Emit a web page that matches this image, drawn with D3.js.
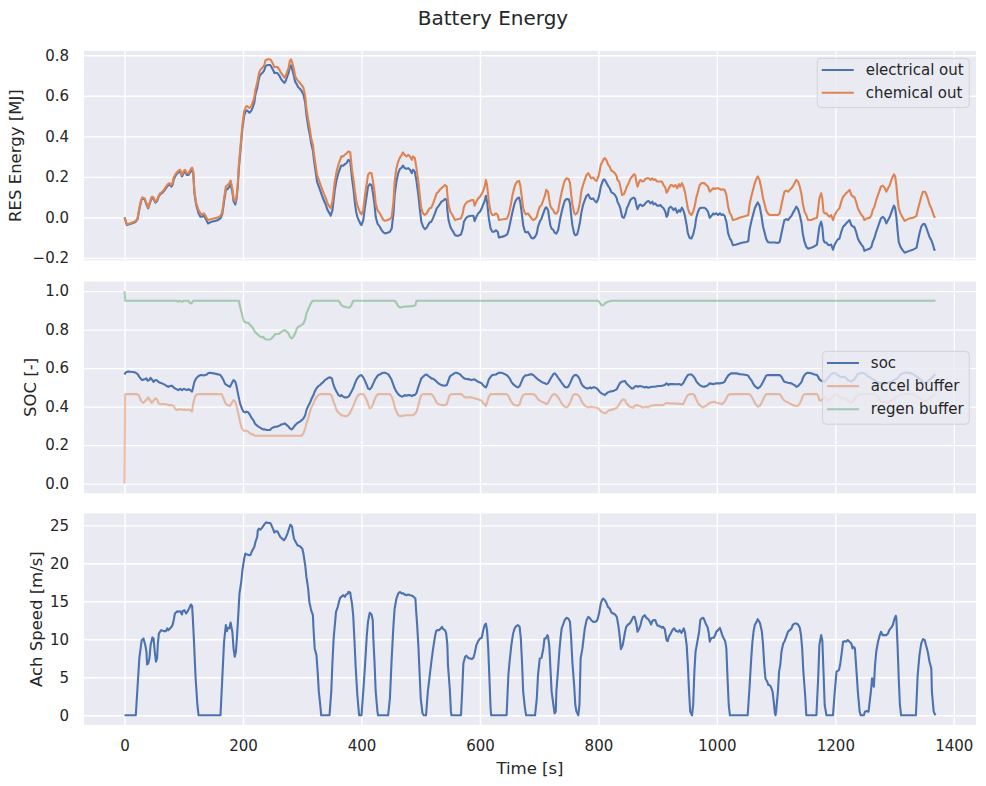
<!DOCTYPE html>
<html>
<head>
<meta charset="utf-8">
<script src="https://cdn.jsdelivr.net/npm/d3@7"></script>
<style>
  body { margin: 0; background: #fff; }
  text { font-family: "DejaVu Sans", sans-serif; fill: #262626; }
</style>
</head>
<body>
<div id="chart"></div>
<script>
// ---- data (time [s], value) ----
const electricalOut = [[0,0],[4,-0.038],[12,-0.03],[19,-0.021],[22,-0.008],[25,0.041],[28,0.081],[30,0.094],[34,0.089],[37,0.064],
[40,0.045],[43,0.073],[46,0.098],[49,0.091],[52,0.073],[55,0.081],[57,0.098],[60,0.114],[64,0.122],[67,0.132],
[70,0.144],[73,0.157],[76,0.164],[79,0.152],[81,0.16],[83,0.188],[87,0.21],[91,0.223],[94,0.226],[97,0.202],
[100,0.221],[102,0.226],[105,0.21],[108,0.21],[111,0.223],[114,0.238],[116,0.218],[118,0.119],[121,0.061],[125,0.02],
[128,0.003],[130,0.003],[134,0.008],[136,-0.002],[139,-0.018],[141,-0.03],[147,-0.021],[156,-0.015],[162,-0.005],[165,0.017],
[168,0.078],[171,0.136],[174,0.14],[177,0.152],[179,0.165],[182,0.127],[184,0.081],[187,0.064],[189,0.091],[191,0.147],
[193,0.243],[196,0.342],[199,0.438],[202,0.504],[205,0.527],[207,0.527],[211,0.516],[214,0.527],[216,0.54],[219,0.565],
[221,0.607],[224,0.64],[226,0.673],[228,0.698],[230,0.706],[233,0.714],[236,0.726],[238,0.747],[242,0.752],[246,0.752],
[248,0.742],[251,0.726],[253,0.712],[255,0.714],[258,0.712],[261,0.701],[264,0.684],[268,0.669],[270,0.664],[272,0.673],
[274,0.689],[277,0.714],[279,0.742],[281,0.75],[283,0.731],[286,0.698],[288,0.669],[291,0.656],[293,0.643],[296,0.635],
[299,0.623],[302,0.607],[305,0.565],[307,0.507],[310,0.45],[313,0.405],[315,0.367],[318,0.329],[320,0.279],[323,0.218],
[325,0.177],[328,0.152],[331,0.127],[334,0.102],[337,0.081],[340,0.061],[342,0.041],[346,0.02],[348,0.008],[351,0.036],
[353,0.086],[355,0.136],[358,0.185],[361,0.218],[364,0.243],[366,0.256],[369,0.255],[372,0.263],[375,0.268],[378,0.284],
[381,0.276],[382,0.251],[384,0.193],[387,0.127],[389,0.069],[391,0.028],[393,0.003],[396,-0.018],[398,-0.03],[400,-0.038],
[403,-0.013],[406,0.053],[409,0.111],[411,0.152],[414,0.164],[417,0.16],[419,0.127],[422,0.064],[424,0.003],[427,-0.03],
[431,-0.046],[434,-0.063],[437,-0.074],[440,-0.079],[444,-0.076],[448,-0.071],[451,-0.055],[454,0.02],[456,0.111],[459,0.177],
[462,0.218],[465,0.24],[468,0.246],[470,0.256],[473,0.243],[476,0.24],[479,0.243],[482,0.235],[485,0.218],[487,0.235],
[490,0.226],[493,0.177],[496,0.111],[499,0.028],[501,-0.021],[504,-0.046],[507,-0.058],[510,-0.051],[513,-0.035],[515,-0.025],
[518,-0.021],[521,-0.002],[524,0.02],[527,0.045],[530,0.056],[532,0.064],[535,0.078],[538,0.083],[541,0.091],[544,0.086],
[545,0.036],[547,-0.013],[550,-0.046],[552,-0.058],[555,-0.071],[558,-0.088],[563,-0.091],[568,-0.084],[571,-0.055],[573,-0.021],
[576,-0.005],[579,0.003],[583,0.007],[586,0.008],[589,0.008],[591,-0.018],[594,0.003],[597,0.02],[600,0.028],[603,0.045],
[605,0.061],[608,0.081],[610,0.107],[612,0.078],[615,-0.005],[618,-0.055],[621,-0.071],[624,-0.071],[627,-0.063],[630,-0.071],
[632,-0.099],[636,-0.096],[642,-0.091],[646,-0.084],[649,-0.055],[652,-0.013],[655,0.028],[658,0.064],[660,0.081],[663,0.094],
[666,0.098],[668,0.078],[671,0.012],[673,-0.038],[676,-0.071],[678,-0.074],[681,-0.071],[687,-0.101],[690,-0.104],[693,-0.096],
[696,-0.079],[698,-0.046],[701,-0.021],[704,-0.005],[707,0.02],[710,0.045],[712,0.05],[715,0.036],[717,-0.005],[719,-0.04],
[721,-0.055],[724,-0.062],[726,-0.075],[729,-0.08],[732,-0.063],[735,-0.013],[738,0.028],[741,0.061],[743,0.081],[746,0.091],
[750,0.089],[752,0.069],[754,0.012],[756,-0.038],[759,-0.079],[761,-0.088],[764,-0.084],[766,-0.063],[769,-0.021],[771,0.02],
[774,0.061],[777,0.086],[780,0.107],[783,0.114],[786,0.094],[788,0.091],[791,0.094],[794,0.081],[797,0.074],[800,0.094],
[802,0.119],[804,0.152],[807,0.177],[809,0.188],[811,0.185],[814,0.169],[816,0.157],[819,0.144],[822,0.124],[825,0.119],
[828,0.111],[831,0.094],[832,0.078],[835,0.061],[837,0.045],[840,0.003],[843,-0.002],[846,0.02],[848,0.045],[851,0.064],
[854,0.086],[857,0.094],[860,0.098],[862,0.091],[864,0.061],[866,0.041],[869,0.061],[871,0.064],[874,0.056],[877,0.061],
[879,0.069],[882,0.078],[885,0.081],[888,0.069],[891,0.078],[893,0.064],[896,0.069],[899,0.058],[902,0.058],[905,0.061],
[907,0.053],[910,0.045],[913,0.028],[915,0.003],[917,0.012],[919,0.045],[922,0.053],[924,0.048],[927,0.036],[930,0.045],
[933,0.023],[936,0.036],[938,0.028],[941,0.048],[944,0.031],[946,0.008],[949,-0.038],[951,-0.079],[954,-0.101],[957,-0.104],
[960,-0.084],[963,-0.046],[965,-0.005],[968,0.028],[971,0.045],[974,0.048],[977,0.048],[979,0.048],[982,0.041],[985,0.028],
[988,-0.002],[991,0.008],[994,0.02],[996,0.015],[999,0.02],[1002,0.012],[1005,0.02],[1008,0.012],[1010,0.015],[1013,0.008],
[1016,-0.021],[1019,-0.079],[1022,-0.104],[1024,-0.112],[1027,-0.137],[1033,-0.134],[1038,-0.129],[1044,-0.124],[1050,-0.121],[1053,-0.117],
[1055,-0.063],[1058,-0.021],[1061,0.012],[1064,0.045],[1067,0.064],[1069,0.074],[1072,0.058],[1075,0.012],[1078,-0.046],[1081,-0.079],
[1083,-0.104],[1086,-0.121],[1089,-0.124],[1098,-0.124],[1103,-0.126],[1106,-0.121],[1109,-0.079],[1112,-0.038],[1114,-0.013],[1117,-0.008],
[1120,-0.013],[1123,-0.002],[1126,0.008],[1128,0.02],[1131,0.036],[1134,0.053],[1137,0.041],[1140,0.012],[1143,-0.03],[1145,-0.079],
[1148,-0.121],[1151,-0.145],[1154,-0.154],[1159,-0.15],[1165,-0.142],[1169,-0.134],[1171,-0.088],[1173,-0.046],[1176,-0.021],[1178,-0.046],
[1180,-0.112],[1182,-0.124],[1185,-0.124],[1187,-0.134],[1190,-0.137],[1193,-0.134],[1196,-0.159],[1199,-0.134],[1202,-0.117],[1204,-0.109],
[1207,-0.104],[1210,-0.071],[1213,-0.046],[1216,-0.038],[1218,-0.03],[1221,-0.021],[1224,-0.013],[1227,-0.038],[1230,-0.046],[1232,-0.046],
[1235,-0.071],[1238,-0.104],[1241,-0.121],[1244,-0.134],[1247,-0.145],[1249,-0.165],[1253,-0.159],[1258,-0.154],[1261,-0.145],[1263,-0.121],
[1266,-0.101],[1269,-0.071],[1272,-0.046],[1275,-0.021],[1277,-0.005],[1280,0.003],[1283,-0.005],[1286,-0.03],[1289,-0.013],[1292,0.003],
[1294,0.02],[1297,0.045],[1299,0.058],[1301,0.045],[1303,0.003],[1305,-0.063],[1307,-0.121],[1310,-0.145],[1313,-0.159],[1317,-0.174],
[1325,-0.165],[1331,-0.159],[1337,-0.15],[1339,-0.121],[1342,-0.079],[1345,-0.046],[1348,-0.033],[1351,-0.033],[1353,-0.046],[1356,-0.071],
[1359,-0.096],[1362,-0.112],[1365,-0.137],[1367,-0.159],[1369,-0.162]]

const chemicalOut = [[0,0],[4,-0.035],[12,-0.026],[19,-0.018],[22,-0.005],[25,0.045],[28,0.086],[30,0.099],[34,0.094],[37,0.069],
[40,0.048],[43,0.078],[46,0.102],[49,0.098],[52,0.078],[55,0.086],[57,0.102],[60,0.119],[64,0.127],[67,0.139],
[70,0.152],[73,0.164],[76,0.169],[79,0.16],[81,0.169],[83,0.197],[87,0.218],[91,0.231],[94,0.235],[97,0.21],
[100,0.23],[102,0.235],[105,0.218],[108,0.218],[111,0.235],[114,0.246],[116,0.226],[118,0.127],[121,0.069],[125,0.036],
[128,0.02],[130,0.015],[134,0.02],[136,0.012],[139,-0.005],[141,-0.013],[147,-0.008],[156,-0.002],[162,0.008],[165,0.028],
[168,0.094],[171,0.152],[174,0.16],[177,0.169],[179,0.182],[182,0.144],[184,0.094],[187,0.078],[189,0.102],[191,0.16],
[193,0.26],[196,0.359],[199,0.458],[202,0.524],[205,0.547],[207,0.549],[211,0.54],[214,0.549],[216,0.565],[219,0.59],
[221,0.631],[224,0.664],[226,0.698],[228,0.722],[230,0.731],[233,0.739],[236,0.752],[238,0.775],[242,0.78],[246,0.78],
[248,0.772],[251,0.755],[253,0.742],[255,0.742],[258,0.742],[261,0.731],[264,0.714],[268,0.698],[270,0.689],[272,0.698],
[274,0.714],[277,0.739],[279,0.772],[281,0.78],[283,0.764],[286,0.731],[288,0.698],[291,0.681],[293,0.673],[296,0.664],
[299,0.653],[302,0.64],[305,0.598],[307,0.54],[310,0.483],[313,0.433],[315,0.392],[318,0.359],[320,0.309],[323,0.251],
[325,0.21],[328,0.185],[331,0.16],[334,0.136],[337,0.114],[340,0.094],[342,0.074],[346,0.053],[348,0.045],[351,0.078],
[353,0.127],[355,0.177],[358,0.226],[361,0.26],[364,0.284],[366,0.301],[369,0.301],[372,0.309],[375,0.317],[378,0.326],
[381,0.322],[382,0.293],[384,0.235],[387,0.177],[389,0.127],[391,0.086],[393,0.061],[396,0.036],[398,0.023],[400,0.015],
[403,0.036],[406,0.111],[409,0.169],[411,0.21],[414,0.221],[417,0.218],[419,0.185],[422,0.127],[424,0.069],[427,0.036],
[431,0.02],[434,0.003],[437,-0.013],[440,-0.017],[444,-0.013],[448,-0.008],[451,0.003],[454,0.078],[456,0.177],[459,0.243],
[462,0.276],[465,0.296],[468,0.309],[470,0.321],[473,0.309],[476,0.301],[479,0.309],[482,0.301],[485,0.284],[487,0.301],
[490,0.293],[493,0.24],[496,0.177],[499,0.094],[501,0.045],[504,0.02],[507,0.012],[510,0.02],[513,0.036],[515,0.045],
[518,0.048],[521,0.069],[524,0.094],[527,0.119],[530,0.127],[532,0.136],[535,0.144],[538,0.152],[541,0.16],[544,0.152],
[545,0.111],[547,0.061],[550,0.028],[552,0.02],[555,0.003],[558,-0.013],[563,-0.008],[568,-0.005],[571,0.02],[573,0.053],
[576,0.069],[579,0.078],[583,0.081],[586,0.086],[589,0.086],[591,0.058],[594,0.078],[597,0.094],[600,0.102],[603,0.116],
[605,0.127],[608,0.152],[610,0.185],[612,0.16],[615,0.078],[618,0.028],[621,0.012],[624,0.012],[627,0.02],[630,0.012],
[632,-0.013],[636,-0.01],[642,-0.008],[646,-0.005],[649,0.02],[652,0.061],[655,0.111],[658,0.147],[660,0.164],[663,0.177],
[666,0.18],[668,0.16],[671,0.094],[673,0.045],[676,0.02],[678,0.015],[681,0.02],[687,-0.005],[690,-0.013],[693,-0.008],
[696,0.003],[698,0.028],[701,0.053],[704,0.061],[707,0.086],[710,0.111],[712,0.136],[715,0.127],[717,0.086],[719,0.055],
[721,0.045],[724,0.035],[726,0.022],[729,0.018],[732,0.032],[735,0.082],[738,0.125],[741,0.16],[743,0.18],[746,0.193],
[750,0.188],[752,0.17],[754,0.115],[756,0.065],[759,0.024],[761,0.015],[764,0.02],[766,0.036],[769,0.078],[771,0.127],
[774,0.16],[777,0.185],[780,0.21],[783,0.218],[786,0.202],[788,0.193],[791,0.197],[794,0.185],[797,0.18],[800,0.202],
[802,0.226],[804,0.26],[807,0.276],[809,0.289],[811,0.293],[814,0.279],[816,0.263],[819,0.251],[822,0.23],[825,0.226],
[828,0.218],[831,0.202],[832,0.185],[835,0.177],[837,0.152],[840,0.111],[843,0.114],[846,0.136],[848,0.152],[851,0.169],
[854,0.19],[857,0.202],[860,0.213],[862,0.21],[864,0.177],[866,0.152],[869,0.177],[871,0.185],[874,0.177],[877,0.18],
[879,0.19],[882,0.193],[885,0.193],[888,0.185],[891,0.193],[893,0.185],[896,0.188],[899,0.177],[902,0.177],[905,0.177],
[907,0.177],[910,0.16],[913,0.147],[915,0.122],[917,0.13],[919,0.144],[922,0.16],[924,0.16],[927,0.152],[930,0.16],
[933,0.144],[936,0.164],[938,0.152],[941,0.169],[944,0.147],[946,0.127],[949,0.078],[951,0.045],[954,0.02],[957,0.012],
[960,0.028],[963,0.061],[965,0.094],[968,0.127],[971,0.16],[974,0.169],[977,0.169],[979,0.169],[982,0.16],[985,0.152],
[988,0.127],[991,0.136],[994,0.144],[996,0.14],[999,0.144],[1002,0.144],[1005,0.14],[1008,0.136],[1010,0.139],[1013,0.136],
[1016,0.111],[1019,0.053],[1022,0.02],[1024,0.012],[1027,-0.013],[1033,-0.008],[1038,-0.002],[1044,0.003],[1050,0.008],[1053,0.012],
[1055,0.061],[1058,0.102],[1061,0.136],[1064,0.169],[1067,0.193],[1069,0.202],[1072,0.185],[1075,0.144],[1078,0.094],[1081,0.061],
[1083,0.036],[1086,0.02],[1089,0.012],[1098,0.012],[1103,0.012],[1106,0.02],[1109,0.061],[1112,0.102],[1114,0.127],[1117,0.132],
[1120,0.127],[1123,0.136],[1126,0.144],[1128,0.152],[1131,0.169],[1134,0.185],[1137,0.177],[1140,0.152],[1143,0.111],[1145,0.069],
[1148,0.028],[1151,0.012],[1154,-0.013],[1159,-0.013],[1165,-0.005],[1169,-0.002],[1171,0.045],[1173,0.094],[1176,0.119],[1178,0.094],
[1180,0.028],[1182,0.02],[1185,0.02],[1187,0.012],[1190,0.003],[1193,0.012],[1196,-0.013],[1199,0.012],[1202,0.028],[1204,0.036],
[1207,0.045],[1210,0.078],[1213,0.102],[1216,0.111],[1218,0.119],[1221,0.127],[1224,0.136],[1227,0.111],[1230,0.102],[1232,0.102],
[1235,0.078],[1238,0.045],[1241,0.028],[1244,0.012],[1247,0.003],[1249,-0.013],[1253,-0.005],[1258,-0.002],[1261,0.012],[1263,0.036],
[1266,0.053],[1269,0.086],[1272,0.111],[1275,0.136],[1277,0.152],[1280,0.157],[1283,0.147],[1286,0.127],[1289,0.144],[1292,0.16],
[1294,0.18],[1297,0.202],[1299,0.213],[1301,0.202],[1303,0.16],[1305,0.094],[1307,0.045],[1310,0.02],[1313,0.003],[1317,-0.017],
[1325,-0.005],[1331,-0.002],[1337,0.008],[1339,0.036],[1342,0.069],[1345,0.102],[1348,0.127],[1351,0.127],[1353,0.119],[1356,0.094],
[1359,0.064],[1362,0.045],[1365,0.02],[1367,0.003],[1369,0]]

const soc = [[0,0.567],[2,0.578],[6,0.583],[10,0.581],[15,0.58],[19,0.576],[22,0.569],[25,0.555],[28,0.543],[30,0.538],[34,0.542],[37,0.547],[39,0.535],[42,0.538],[44,0.55],[47,0.538],[49,0.529],[52,0.538],[55,0.536],[57,0.529],[60,0.524],[63,0.521],[66,0.517],[69,0.512],[71,0.507],[74,0.503],[77,0.507],[80,0.509],[83,0.5],[85,0.495],[88,0.49],[91,0.486],[94,0.493],[97,0.486],[100,0.493],[102,0.49],[105,0.486],[108,0.491],[111,0.486],[114,0.478],[116,0.503],[118,0.529],[121,0.547],[125,0.559],[128,0.564],[130,0.564],[134,0.562],[136,0.564],[139,0.567],[141,0.573],[144,0.576],[150,0.573],[156,0.569],[161,0.566],[164,0.555],[167,0.538],[170,0.517],[173,0.512],[175,0.507],[178,0.503],[181,0.521],[184,0.538],[187,0.529],[189,0.507],[192,0.46],[195,0.417],[198,0.391],[201,0.374],[204,0.37],[206,0.374],[209,0.37],[212,0.356],[215,0.339],[218,0.327],[220,0.313],[223,0.304],[226,0.296],[229,0.291],[232,0.285],[234,0.282],[237,0.282],[240,0.279],[246,0.279],[248,0.287],[251,0.292],[254,0.296],[257,0.296],[260,0.299],[263,0.304],[265,0.308],[268,0.31],[271,0.313],[274,0.304],[277,0.296],[279,0.287],[282,0.282],[285,0.291],[288,0.304],[291,0.313],[293,0.317],[296,0.322],[299,0.33],[302,0.339],[305,0.356],[307,0.382],[310,0.403],[313,0.42],[316,0.443],[319,0.46],[321,0.478],[324,0.495],[327,0.507],[330,0.512],[333,0.521],[336,0.529],[338,0.538],[341,0.543],[344,0.55],[347,0.552],[350,0.547],[352,0.521],[355,0.495],[358,0.478],[361,0.46],[364,0.455],[366,0.46],[369,0.452],[372,0.448],[375,0.448],[378,0.452],[380,0.46],[383,0.478],[386,0.495],[389,0.521],[392,0.542],[395,0.555],[397,0.561],[400,0.564],[403,0.552],[406,0.533],[409,0.512],[411,0.495],[414,0.49],[417,0.5],[420,0.521],[423,0.542],[426,0.555],[428,0.564],[431,0.567],[434,0.573],[437,0.576],[440,0.576],[442,0.573],[445,0.569],[448,0.555],[451,0.538],[454,0.512],[456,0.495],[459,0.478],[462,0.465],[465,0.457],[468,0.452],[471,0.455],[473,0.46],[476,0.457],[479,0.46],[482,0.46],[485,0.455],[487,0.46],[490,0.46],[493,0.472],[496,0.503],[499,0.529],[501,0.547],[504,0.555],[507,0.564],[510,0.567],[513,0.559],[515,0.555],[518,0.547],[521,0.545],[524,0.538],[527,0.529],[530,0.521],[532,0.517],[535,0.512],[541,0.509],[544,0.512],[546,0.529],[549,0.555],[552,0.564],[555,0.569],[558,0.576],[560,0.576],[563,0.573],[566,0.569],[569,0.559],[572,0.55],[575,0.545],[580,0.543],[586,0.538],[591,0.542],[594,0.535],[597,0.529],[600,0.526],[603,0.521],[605,0.512],[608,0.503],[610,0.5],[612,0.512],[615,0.542],[618,0.555],[621,0.564],[627,0.567],[630,0.573],[632,0.576],[636,0.576],[639,0.573],[642,0.569],[645,0.564],[648,0.555],[650,0.547],[653,0.529],[656,0.517],[659,0.509],[662,0.503],[664,0.5],[667,0.507],[670,0.529],[673,0.55],[676,0.561],[681,0.564],[687,0.569],[690,0.564],[693,0.555],[696,0.547],[698,0.542],[701,0.535],[704,0.529],[707,0.524],[710,0.521],[712,0.517],[715,0.521],[718,0.538],[721,0.555],[724,0.569],[726,0.573],[729,0.564],[732,0.55],[735,0.538],[738,0.524],[741,0.512],[743,0.503],[746,0.5],[749,0.503],[752,0.521],[755,0.542],[757,0.555],[760,0.564],[763,0.564],[766,0.555],[769,0.538],[771,0.521],[774,0.507],[777,0.5],[780,0.495],[783,0.495],[786,0.5],[788,0.495],[791,0.5],[794,0.5],[797,0.495],[800,0.486],[802,0.478],[805,0.469],[808,0.465],[811,0.46],[814,0.469],[816,0.474],[819,0.478],[825,0.481],[828,0.486],[831,0.49],[833,0.503],[836,0.521],[839,0.529],[845,0.533],[847,0.521],[850,0.512],[853,0.503],[856,0.495],[859,0.495],[861,0.503],[864,0.507],[867,0.503],[870,0.507],[875,0.503],[878,0.5],[881,0.503],[884,0.498],[890,0.503],[895,0.503],[901,0.507],[906,0.507],[912,0.512],[915,0.521],[918,0.512],[920,0.517],[926,0.517],[932,0.516],[937,0.517],[940,0.512],[943,0.521],[946,0.538],[949,0.555],[951,0.564],[954,0.567],[957,0.567],[960,0.559],[963,0.547],[965,0.533],[968,0.521],[971,0.512],[974,0.507],[977,0.503],[979,0.503],[982,0.507],[985,0.512],[988,0.521],[994,0.517],[999,0.521],[1005,0.521],[1010,0.524],[1013,0.529],[1016,0.547],[1019,0.561],[1022,0.569],[1024,0.573],[1033,0.573],[1038,0.569],[1044,0.567],[1050,0.564],[1053,0.561],[1055,0.55],[1058,0.538],[1061,0.521],[1064,0.507],[1067,0.5],[1069,0.495],[1072,0.5],[1075,0.512],[1078,0.529],[1081,0.547],[1083,0.561],[1086,0.564],[1106,0.564],[1109,0.555],[1112,0.538],[1114,0.529],[1120,0.524],[1126,0.521],[1128,0.517],[1131,0.512],[1134,0.503],[1137,0.507],[1140,0.517],[1143,0.529],[1145,0.547],[1148,0.564],[1151,0.573],[1154,0.576],[1159,0.573],[1165,0.567],[1169,0.564],[1171,0.555],[1173,0.542],[1176,0.535],[1182,0.53],[1187,0.547],[1193,0.57],[1199,0.576],[1204,0.564],[1210,0.552],[1216,0.556],[1221,0.538],[1227,0.53],[1232,0.542],[1238,0.57],[1244,0.576],[1249,0.573],[1255,0.559],[1261,0.547],[1266,0.538],[1272,0.526],[1277,0.521],[1283,0.521],[1289,0.524],[1294,0.53],[1305,0.547],[1311,0.57],[1317,0.576],[1322,0.576],[1328,0.573],[1334,0.564],[1339,0.552],[1345,0.538],[1350,0.521],[1356,0.53],[1362,0.547],[1369,0.57]]

const accelBuffer = [[0,0],[1,0.465],[21,0.465],[24,0.46],[26,0.443],[29,0.426],[32,0.42],[35,0.431],[38,0.438],[40,0.448],[43,0.434],[46,0.42],[49,0.431],[52,0.443],[55,0.438],[57,0.42],[60,0.413],[69,0.413],[74,0.408],[80,0.408],[83,0.403],[85,0.391],[88,0.382],[91,0.386],[97,0.386],[100,0.382],[102,0.386],[105,0.382],[108,0.386],[111,0.382],[114,0.374],[116,0.417],[119,0.452],[122,0.465],[164,0.465],[167,0.443],[170,0.42],[173,0.408],[175,0.408],[178,0.403],[181,0.42],[184,0.434],[187,0.426],[189,0.403],[192,0.365],[195,0.322],[198,0.287],[201,0.275],[206,0.275],[209,0.27],[212,0.261],[215,0.258],[218,0.253],[220,0.249],[299,0.249],[302,0.261],[305,0.287],[307,0.313],[310,0.339],[313,0.374],[316,0.4],[319,0.417],[321,0.434],[324,0.448],[327,0.46],[330,0.465],[347,0.465],[350,0.455],[352,0.431],[355,0.408],[358,0.382],[361,0.369],[364,0.362],[366,0.356],[372,0.351],[375,0.351],[378,0.356],[380,0.365],[383,0.382],[386,0.403],[389,0.426],[392,0.448],[395,0.46],[397,0.465],[403,0.465],[406,0.452],[409,0.434],[411,0.413],[414,0.391],[417,0.396],[420,0.417],[423,0.443],[426,0.46],[428,0.465],[448,0.465],[451,0.452],[454,0.426],[456,0.4],[459,0.374],[462,0.356],[465,0.351],[476,0.355],[487,0.356],[490,0.362],[493,0.374],[496,0.408],[499,0.443],[501,0.46],[504,0.465],[518,0.465],[521,0.455],[524,0.438],[527,0.42],[530,0.413],[535,0.408],[541,0.408],[544,0.413],[546,0.434],[549,0.46],[552,0.465],[569,0.465],[572,0.455],[575,0.448],[586,0.448],[591,0.443],[597,0.438],[603,0.431],[605,0.42],[608,0.413],[610,0.403],[612,0.42],[615,0.452],[618,0.465],[645,0.465],[648,0.455],[650,0.443],[653,0.426],[656,0.413],[659,0.408],[664,0.405],[667,0.413],[670,0.443],[673,0.46],[676,0.465],[690,0.465],[693,0.46],[696,0.448],[698,0.438],[701,0.431],[704,0.426],[707,0.422],[710,0.417],[712,0.413],[715,0.42],[718,0.438],[721,0.455],[724,0.465],[726,0.465],[729,0.46],[732,0.448],[735,0.434],[738,0.417],[741,0.405],[743,0.4],[746,0.396],[749,0.403],[752,0.42],[755,0.443],[757,0.46],[760,0.465],[763,0.465],[766,0.46],[769,0.448],[771,0.431],[774,0.417],[777,0.405],[780,0.4],[783,0.396],[788,0.4],[794,0.396],[797,0.394],[800,0.391],[802,0.382],[805,0.374],[808,0.369],[811,0.365],[814,0.37],[816,0.377],[819,0.382],[825,0.386],[831,0.394],[833,0.403],[836,0.417],[839,0.431],[842,0.438],[845,0.434],[847,0.42],[850,0.408],[853,0.4],[859,0.394],[861,0.405],[864,0.408],[870,0.403],[875,0.396],[881,0.4],[884,0.396],[887,0.403],[895,0.408],[909,0.408],[915,0.42],[920,0.417],[926,0.417],[943,0.413],[946,0.431],[949,0.452],[951,0.46],[954,0.465],[960,0.465],[963,0.455],[965,0.438],[968,0.42],[971,0.408],[974,0.4],[977,0.396],[979,0.4],[982,0.405],[985,0.413],[988,0.42],[996,0.426],[999,0.42],[1005,0.417],[1008,0.413],[1010,0.417],[1013,0.426],[1016,0.443],[1019,0.46],[1022,0.465],[1055,0.465],[1058,0.455],[1061,0.438],[1064,0.42],[1067,0.408],[1069,0.4],[1072,0.403],[1075,0.417],[1078,0.438],[1081,0.455],[1083,0.465],[1106,0.465],[1109,0.452],[1112,0.438],[1114,0.431],[1117,0.426],[1123,0.417],[1128,0.408],[1134,0.403],[1137,0.405],[1140,0.417],[1143,0.438],[1145,0.455],[1148,0.465],[1169,0.465],[1171,0.455],[1173,0.434],[1176,0.431],[1182,0.452],[1187,0.431],[1193,0.443],[1199,0.465],[1204,0.461],[1210,0.443],[1216,0.443],[1221,0.431],[1227,0.421],[1232,0.435],[1238,0.461],[1244,0.465],[1266,0.465],[1272,0.452],[1277,0.426],[1289,0.421],[1300,0.443],[1311,0.465],[1328,0.465],[1339,0.452],[1350,0.426],[1356,0.435],[1362,0.452],[1369,0.465]]

const regenBuffer = [[0,1.0],[1,0.95],[88,0.95],[90,0.945],[92,0.95],[97,0.945],[100,0.95],[108,0.95],[110,0.939],[113,0.936],[116,0.95],[193,0.95],[195,0.919],[198,0.884],[200,0.858],[202,0.841],[206,0.836],[209,0.836],[212,0.824],[215,0.815],[218,0.801],[220,0.789],[223,0.78],[226,0.772],[229,0.763],[232,0.76],[234,0.763],[237,0.751],[240,0.749],[246,0.749],[248,0.754],[251,0.763],[254,0.777],[260,0.777],[263,0.784],[265,0.789],[268,0.794],[271,0.798],[274,0.789],[277,0.78],[279,0.763],[282,0.754],[285,0.763],[288,0.78],[291,0.806],[293,0.815],[296,0.818],[299,0.824],[302,0.832],[305,0.853],[307,0.884],[310,0.905],[313,0.927],[316,0.945],[319,0.95],[361,0.95],[364,0.939],[366,0.927],[369,0.922],[372,0.919],[375,0.915],[380,0.915],[383,0.927],[386,0.95],[456,0.95],[459,0.939],[462,0.922],[465,0.915],[470,0.919],[487,0.922],[491,0.927],[493,0.95],[800,0.95],[803,0.936],[805,0.927],[808,0.927],[811,0.936],[816,0.945],[822,0.95],[1369,0.95]]

const achSpeed = [[0,0],[19,0],[25,7.57],[26,8.14],[29,9.89],[32,10.11],[35,9.24],[37,8.36],[38,6.7],[40,6.83],[42,7.49],[44,9.24],[47,10.25],[49,10.11],[51,8.36],[53,7.05],[55,7.49],[56,9.24],[58,10.77],[62,11.21],[66,11.08],[70,11.08],[72,11.43],[74,11.21],[78,11.51],[81,11.87],[83,12.52],[85,13.4],[89,13.7],[91,13.62],[94,13.7],[97,13.27],[98,13.7],[101,13.84],[104,13.4],[106,13.62],[109,14.05],[112,14.58],[114,14.4],[115,13.18],[117,10.11],[120,4.86],[123,1.36],[125,0],[162,0],[165,4.86],[168,9.68],[171,11.87],[173,11.08],[174,11.51],[177,11.43],[179,12.22],[182,10.99],[184,8.8],[186,7.71],[188,8.36],[190,10.55],[192,13.18],[194,16.02],[197,17.56],[199,19.09],[202,20.62],[204,21.28],[207,21.15],[211,21.06],[213,21.15],[215,21.59],[219,22.15],[221,22.81],[224,23.47],[225,24.34],[227,24.56],[229,24.43],[232,24.65],[234,24.91],[237,25.22],[239,25.39],[243,25.31],[246,25.31],[248,25],[251,24.47],[253,24.04],[255,24.21],[258,24.21],[261,23.77],[263,23.47],[266,23.25],[269,23.03],[272,23.34],[275,23.91],[278,24.65],[280,25.09],[283,24.78],[284,24.12],[286,23.25],[289,22.81],[292,22.37],[296,22.24],[300,21.94],[302,21.28],[305,19.75],[307,18.21],[310,16.68],[312,14.93],[315,13.84],[318,13.18],[319,11.43],[321,8.8],[324,7.92],[326,5.74],[328,3.11],[331,0.92],[332,0],[346,0],[349,3.11],[351,7.05],[353,10.11],[355,11.87],[357,13.62],[360,14.27],[362,14.93],[364,15.46],[366,15.59],[369,15.81],[372,15.59],[374,15.89],[377,16.02],[378,16.24],[381,16.16],[382,15.59],[384,14.71],[386,13.18],[388,10.11],[390,6.61],[393,2.67],[396,0],[400,0],[403,3.11],[406,6.61],[409,10.55],[411,12.3],[413,13.18],[414,13.49],[417,13.27],[419,12.52],[420,10.11],[422,7.05],[424,3.11],[427,0.48],[428,0],[445,0],[448,2.23],[451,7.49],[454,11.87],[456,14.05],[459,15.37],[462,16.02],[465,16.24],[468,16.02],[470,16.07],[473,15.89],[476,15.81],[479,15.89],[482,15.81],[486,15.72],[488,15.59],[491,15.37],[492,14.05],[494,11.87],[496,9.24],[498,5.74],[500,2.23],[503,0.26],[505,0],[509,0],[512,3.11],[515,5.08],[518,7.05],[521,8.8],[524,10.33],[526,11.08],[528,11.21],[531,11.21],[534,11.43],[536,11.65],[538,11.34],[541,11.21],[543,10.77],[545,9.24],[546,6.61],[549,3.55],[551,0.48],[552,0],[568,0],[570,3.11],[572,6.83],[575,7.71],[577,7.84],[580,7.57],[583,7.49],[586,7.4],[589,7.57],[591,8.14],[594,9.24],[597,9.76],[600,10.11],[603,10.2],[605,10.99],[608,11.87],[610,12.08],[612,11.21],[614,8.8],[616,4.86],[618,0.92],[619,0],[645,0],[648,5.3],[650,7.05],[653,9.24],[656,10.77],[659,11.51],[662,11.78],[664,11.87],[667,11.65],[669,10.11],[671,7.05],[673,3.11],[676,0.92],[678,0],[693,0],[696,2.23],[698,5.3],[701,7.49],[704,7.57],[707,8.8],[709,10.11],[711,10.11],[714,10.55],[715,10.33],[717,9.24],[719,6.17],[721,3.11],[724,1.36],[726,0.26],[728,0.48],[729,3.11],[732,6.17],[734,8.36],[736,10.11],[738,11.43],[741,12.08],[743,12.52],[746,12.83],[749,12.74],[752,12.3],[754,10.11],[756,7.05],[759,3.98],[761,1.36],[763,0.48],[766,0],[768,1.36],[770,7.49],[773,8.8],[775,10.11],[777,11.43],[780,12.52],[783,12.96],[786,12.74],[788,12.52],[791,12.3],[794,12.3],[797,12.39],[799,12.74],[801,13.4],[804,14.71],[806,15.15],[808,15.37],[811,15.15],[814,14.71],[816,14.27],[819,14.05],[822,13.53],[825,13.4],[828,13.27],[831,12.96],[832,12.52],[834,11.65],[836,10.33],[838,8.71],[841,9.24],[843,10.11],[845,10.99],[847,11.65],[850,11.95],[853,12.08],[856,12.52],[859,12.96],[861,12.96],[864,12.08],[866,10.99],[869,11.43],[871,11.87],[873,12.52],[875,12.96],[878,13.18],[881,12.83],[884,12.65],[887,12.3],[889,11.95],[891,12.39],[893,12.52],[896,12.52],[898,12.08],[900,11.78],[902,11.78],[905,11.65],[907,11.51],[909,11.65],[912,11.34],[915,9.89],[917,9.76],[919,10.33],[922,10.77],[924,11.08],[926,11.34],[928,11.43],[931,11.08],[933,11.08],[935,10.99],[937,11.21],[940,10.86],[942,11.08],[944,11.43],[946,10.99],[949,9.24],[951,6.61],[953,3.11],[955,0.48],[958,0],[960,1.36],[962,5.74],[964,8.36],[967,9.68],[970,10.99],[972,12.52],[974,12.74],[977,12.83],[979,12.52],[981,12.08],[984,11.65],[986,10.99],[988,9.68],[990,10.11],[992,10.2],[995,10.2],[997,10.55],[999,10.99],[1002,11.21],[1005,11.51],[1007,11.08],[1009,10.55],[1011,10.2],[1014,9.76],[1016,8.8],[1018,4.86],[1020,1.36],[1022,0],[1052,0],[1055,3.55],[1058,7.49],[1060,9.68],[1062,11.08],[1064,11.87],[1067,12.3],[1069,12.65],[1071,12.39],[1073,12.08],[1076,10.99],[1078,9.24],[1080,6.61],[1082,4.86],[1085,4.42],[1087,3.98],[1089,3.98],[1091,3.77],[1094,3.11],[1096,1.8],[1098,0.26],[1099,0],[1100,0.48],[1103,3.11],[1105,5.74],[1107,6.61],[1109,8.36],[1112,9.46],[1114,9.68],[1117,10.33],[1120,10.99],[1123,11.21],[1126,11.43],[1128,11.87],[1131,12.08],[1134,12.08],[1137,11.95],[1140,11.51],[1142,10.55],[1144,8.8],[1146,5.74],[1149,2.67],[1151,0],[1168,0],[1171,4.86],[1173,9.24],[1176,10.55],[1178,9.89],[1180,5.74],[1182,1.36],[1185,0],[1196,0],[1199,3.11],[1202,5.74],[1206,5.95],[1208,6.61],[1211,8.36],[1213,9.68],[1216,9.76],[1218,9.68],[1221,9.89],[1224,9.68],[1227,9.46],[1229,8.8],[1231,9.02],[1233,8.8],[1235,6.61],[1238,3.11],[1241,0.48],[1243,0],[1248,0],[1250,0.48],[1253,0.57],[1256,0.48],[1258,1.8],[1260,3.11],[1262,4.86],[1265,3.77],[1267,6.61],[1269,8.36],[1272,9.68],[1275,10.55],[1277,10.99],[1280,10.55],[1283,10.55],[1286,10.55],[1289,10.77],[1291,11.21],[1294,11.51],[1297,11.87],[1300,12.74],[1302,13.09],[1303,12.74],[1305,9.24],[1307,4.86],[1309,1.36],[1311,0],[1336,0],[1339,5.3],[1342,7.92],[1345,9.46],[1348,10.03],[1351,9.89],[1353,9.24],[1356,8.36],[1359,7.05],[1362,6.17],[1363,3.11],[1366,0.48],[1369,0]]

const timeTicks = [0, 200, 400, 600, 800, 1000, 1200, 1400]
const energyTicks = [-0.2, 0, 0.2, 0.4, 0.6, 0.8]
const socTicks = [0, 0.2, 0.4, 0.6, 0.8, 1.0]
const speedTicks = [0, 5, 10, 15, 20, 25]

// seaborn "deep"
const blue = '#4c72b0', orange = '#dd8452', green = '#55a868'

const W = 986, H = 786
const plotLeft = 84, plotRight = 976

const svg = d3.select('#chart').append('svg')
  .attr('width', W)
  .attr('height', H)
svg.append('rect').attr('width', W).attr('height', H).attr('fill', '#fff')

const x = d3.scaleLinear()
  .domain([-68.45, 1437.45])
  .range([plotLeft, plotRight])

const panels = [
  {
    top: 50.8, bottom: 260.4, domain: [-0.212, 0.822], ticks: energyTicks, fmt: d3.format('.1f'),
    label: 'RES Energy [MJ]', labelX: 15.5,
    series: [
      { name: 'electrical out', data: electricalOut, color: blue, alpha: 1 },
      { name: 'chemical out', data: chemicalOut, color: orange, alpha: 1 }
    ],
    legendTop: 58.3, legendGap: 22.7
  },
  {
    top: 281.5, bottom: 493.3, domain: [-0.05, 1.05], ticks: socTicks, fmt: d3.format('.1f'),
    label: 'SOC [-]', labelX: 30.5,
    series: [
      { name: 'soc', data: soc, color: blue, alpha: 1 },
      { name: 'accel buffer', data: accelBuffer, color: orange, alpha: 0.5 },
      { name: 'regen buffer', data: regenBuffer, color: green, alpha: 0.5 }
    ],
    legendTop: 351.3, legendGap: 23.1
  },
  {
    top: 513.4, bottom: 724.9, domain: [-1.263, 26.57], ticks: speedTicks, fmt: d3.format('d'),
    label: 'Ach Speed [m/s]', labelX: 36,
    series: [
      { name: 'ach speed', data: achSpeed, color: blue, alpha: 1 }
    ],
    legendTop: null
  }
]

panels.forEach((p, i) => {
  const y = d3.scaleLinear().domain(p.domain).range([p.bottom, p.top])
  const g = svg.append('g')

  g.append('rect')
    .attr('x', plotLeft).attr('y', p.top)
    .attr('width', plotRight - plotLeft).attr('height', p.bottom - p.top)
    .attr('fill', '#eaeaf2')

  // grid
  g.append('g')
    .attr('transform', `translate(0,${p.bottom})`)
    .call(d3.axisBottom(x).tickValues(timeTicks).tickSize(-(p.bottom - p.top)).tickFormat(''))
    .call(a => a.select('.domain').remove())
    .call(a => a.selectAll('line').attr('stroke', '#fff').attr('stroke-width', 1.4))
  g.append('g')
    .attr('transform', `translate(${plotLeft},0)`)
    .call(d3.axisLeft(y).tickValues(p.ticks).tickSize(-(plotRight - plotLeft)).tickFormat(''))
    .call(a => a.select('.domain').remove())
    .call(a => a.selectAll('line').attr('stroke', '#fff').attr('stroke-width', 1.4))

  // y tick labels
  g.append('g')
    .attr('transform', `translate(${plotLeft},0)`)
    .call(d3.axisLeft(y).tickValues(p.ticks).tickSize(0).tickPadding(15).tickFormat(p.fmt))
    .call(a => a.select('.domain').remove())
    .call(a => a.selectAll('text')
      .attr('font-size', 15)
      .attr('font-family', '"DejaVu Sans", sans-serif')
      .attr('fill', '#262626'))

  g.append('text')
    .attr('transform', `translate(${p.labelX},${(p.top + p.bottom) / 2}) rotate(-90)`)
    .attr('text-anchor', 'middle')
    .attr('dominant-baseline', 'central')
    .attr('font-size', 16.5)
    .text(p.label)

  const clipId = 'clip' + i
  svg.append('clipPath').attr('id', clipId)
    .append('rect')
    .attr('x', plotLeft).attr('y', p.top)
    .attr('width', plotRight - plotLeft).attr('height', p.bottom - p.top)

  const line = d3.line()
    .x(d => x(d[0]))
    .y(d => y(d[1]))

  const lines = g.append('g').attr('clip-path', `url(#${clipId})`)
  p.series.forEach(s => {
    lines.append('path')
      .attr('d', line(s.data))
      .attr('fill', 'none')
      .attr('stroke', s.color)
      .attr('stroke-opacity', s.alpha)
      .attr('stroke-width', 2.1)
      .attr('stroke-linejoin', 'round')
  })

  // legend, upper right
  if (p.legendTop !== null) {
    const lg = g.append('g')
    const box = lg.append('rect')
    const rows = p.series.map((s, k) => {
      const ry = p.legendTop + 11.7 + k * p.legendGap
      const t = lg.append('text')
        .attr('y', ry)
        .attr('dy', '0.35em')
        .attr('font-size', 15)
        .text(s.name)
      const l = lg.append('line')
        .attr('y1', ry).attr('y2', ry)
        .attr('stroke', s.color)
        .attr('stroke-opacity', s.alpha)
        .attr('stroke-width', 2.1)
      return { t, l }
    })
    const maxLen = d3.max(rows, r => r.t.node().getComputedTextLength())
    const boxRight = 969.3
    const boxW = 48.4 + maxLen + 5.6
    const boxX = boxRight - boxW
    const boxH = 11.7 + (p.series.length - 1) * p.legendGap + 15
    box.attr('x', boxX).attr('y', p.legendTop)
      .attr('width', boxW).attr('height', boxH)
      .attr('rx', 4)
      .attr('fill', '#eaeaf2').attr('fill-opacity', 0.8)
      .attr('stroke', '#cccccc').attr('stroke-opacity', 0.8)
      .attr('stroke-width', 1)
    rows.forEach(r => {
      r.l.attr('x1', boxX + 4.5).attr('x2', boxX + 36.5)
      r.t.attr('x', boxX + 48.4)
    })
  }

  // x tick labels only on the bottom panel
  if (i === panels.length - 1) {
    g.append('g')
      .attr('transform', `translate(0,${p.bottom})`)
      .call(d3.axisBottom(x).tickValues(timeTicks).tickSize(0).tickPadding(15).tickFormat(d3.format('d')))
      .call(a => a.select('.domain').remove())
      .call(a => a.selectAll('text')
        .attr('font-size', 15)
        .attr('font-family', '"DejaVu Sans", sans-serif')
        .attr('fill', '#262626'))
    g.append('text')
      .attr('x', (plotLeft + plotRight) / 2)
      .attr('y', 774)
      .attr('text-anchor', 'middle')
      .attr('font-size', 16.5)
      .text('Time [s]')
  }
})

svg.append('text')
  .attr('x', W / 2)
  .attr('y', 25)
  .attr('text-anchor', 'middle')
  .attr('font-size', 20)
  .text('Battery Energy')
</script>
</body>
</html>
